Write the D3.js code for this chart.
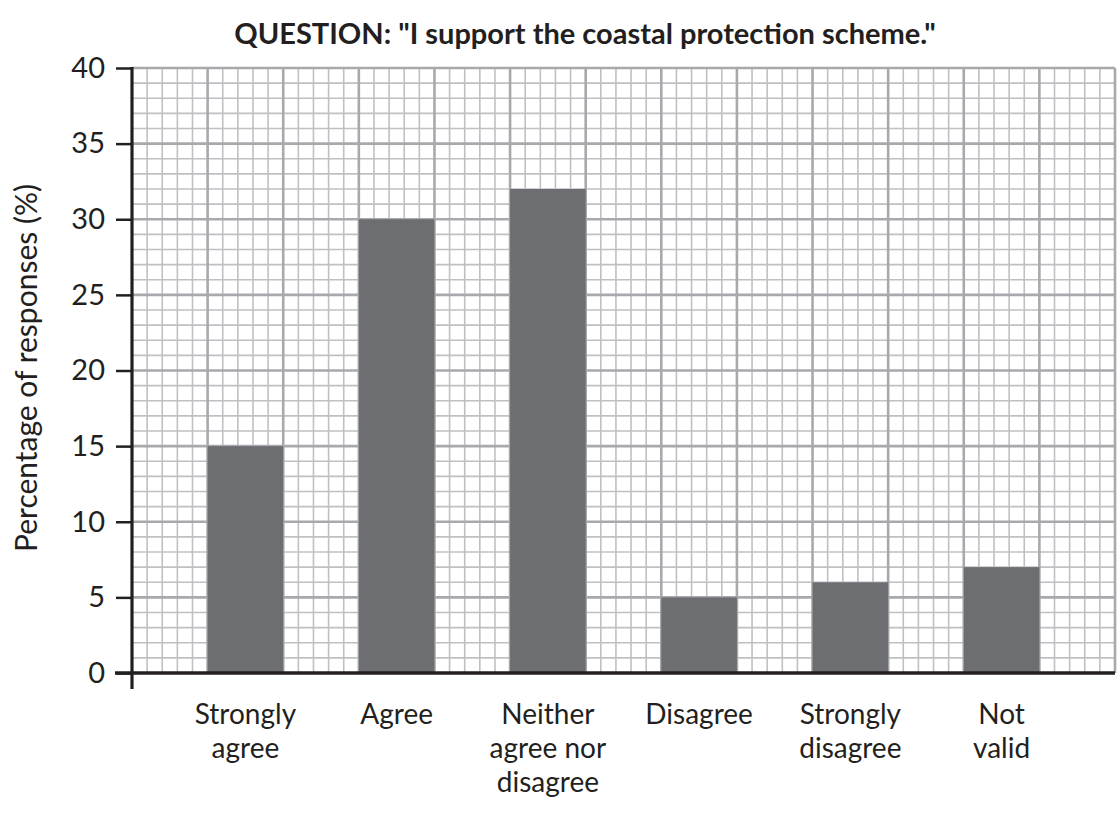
<!DOCTYPE html>
<html>
<head>
<meta charset="utf-8">
<script src="https://cdn.jsdelivr.net/npm/d3@7"></script>
<style>
  body { margin: 0; background: #fff; }
  text { font-family: Lato, "Open Sans", sans-serif; fill: #231f20; }
</style>
</head>
<body>
<div id="vis"></div>
<script>
// chart data
var categories = ["Strongly\nagree", "Agree", "Neither\nagree nor\ndisagree", "Disagree", "Strongly\ndisagree", "Not\nvalid"];
var values = [15, 30, 32, 5, 6, 7];
var yTicks = [0, 5, 10, 15, 20, 25, 30, 35, 40];
var titleText = 'QUESTION: "I support the coastal protection scheme."';
var yLabel = "Percentage of responses (%)";

var width = 1117,
    height = 813;

var svg = d3.select("#vis")
  .append("svg")
  .attr("width", width)
  .attr("height", height);

// graph paper is 65 small squares wide, 40 high
var gx = d3.scaleLinear().domain([0, 65]).range([132, 1115]);
var y = d3.scaleLinear().domain([0, 40]).range([673, 68]);

// bars sit on every second big square
var x = d3.scaleBand()
  .domain(categories)
  .range([gx(0), gx(65)])
  .paddingInner(0.5)
  .paddingOuter(0.5);

var grid = svg.append("g");

// minor grid
grid.selectAll(".vMinor")
  .data(d3.range(0, 66).filter(function(d) { return d % 5 != 0; }))
  .enter().append("line")
    .attr("x1", function(d) { return gx(d); })
    .attr("x2", function(d) { return gx(d); })
    .attr("y1", y(0))
    .attr("y2", y(40))
    .attr("stroke", "#bfc0c3")
    .attr("stroke-width", 1.6);

grid.selectAll(".hMinor")
  .data(d3.range(0, 41).filter(function(d) { return d % 5 != 0; }))
  .enter().append("line")
    .attr("x1", gx(0))
    .attr("x2", gx(65))
    .attr("y1", function(d) { return y(d); })
    .attr("y2", function(d) { return y(d); })
    .attr("stroke", "#bfc0c3")
    .attr("stroke-width", 1.6);

// major grid
grid.selectAll(".vMajor")
  .data(d3.range(5, 66, 5))
  .enter().append("line")
    .attr("x1", function(d) { return gx(d); })
    .attr("x2", function(d) { return gx(d); })
    .attr("y1", y(0))
    .attr("y2", y(40))
    .attr("stroke", "#a7a9ac")
    .attr("stroke-width", 2.6);

grid.selectAll(".hMajor")
  .data(d3.range(5, 41, 5))
  .enter().append("line")
    .attr("x1", gx(0))
    .attr("x2", gx(65))
    .attr("y1", function(d) { return y(d); })
    .attr("y2", function(d) { return y(d); })
    .attr("stroke", "#a7a9ac")
    .attr("stroke-width", 2.6);

// bars
svg.selectAll(".bar")
  .data(values)
  .enter().append("rect")
    .attr("class", "bar")
    .attr("x", function(d, i) { return x(categories[i]); })
    .attr("y", function(d) { return y(d); })
    .attr("width", x.bandwidth())
    .attr("height", function(d) { return y(0) - y(d); })
    .attr("fill", "#6d6e71");

// y axis
var yAxis = svg.append("g")
  .attr("transform", "translate(" + gx(0) + ",0)")
  .call(d3.axisLeft(y).tickValues(yTicks).tickSize(16).tickPadding(11));

yAxis.select(".domain").remove();
yAxis.selectAll(".tick line")
  .attr("stroke", "#231f20")
  .attr("stroke-width", 2.5);
yAxis.selectAll(".tick text")
  .attr("font-size", "29px")
  .attr("font-family", 'Lato, "Open Sans", sans-serif')
  .attr("fill", "#231f20");

yAxis.append("line")
  .attr("x1", 0).attr("x2", 0)
  .attr("y1", y(40) - 1)
  .attr("y2", y(0) + 16)
  .attr("stroke", "#231f20")
  .attr("stroke-width", 3.2);

// x axis line
svg.append("line")
  .attr("x1", gx(0) - 17)
  .attr("x2", gx(65))
  .attr("y1", y(0))
  .attr("y2", y(0))
  .attr("stroke", "#231f20")
  .attr("stroke-width", 3.5);

// category labels
var labels = svg.selectAll(".catLabel")
  .data(categories)
  .enter().append("text")
    .attr("class", "catLabel")
    .attr("text-anchor", "middle")
    .attr("font-size", "28px")
    .attr("x", function(d) { return x(d) + x.bandwidth() / 2; })
    .attr("y", 724);

labels.selectAll("tspan")
  .data(function(d) { return d.split("\n"); })
  .enter().append("tspan")
    .attr("x", function() { return d3.select(this.parentNode).attr("x"); })
    .attr("dy", function(d, i) { return i == 0 ? 0 : 34; })
    .text(function(d) { return d; });

// y label
svg.append("text")
  .attr("transform", "translate(37," + 368 + ") rotate(-90)")
  .attr("text-anchor", "middle")
  .attr("font-size", "30px")
  .text(yLabel);

// title
svg.append("text")
  .attr("x", 585)
  .attr("y", 44)
  .attr("text-anchor", "middle")
  .attr("font-size", "29px")
  .attr("font-weight", "bold")
  .text(titleText);
</script>
</body>
</html>
